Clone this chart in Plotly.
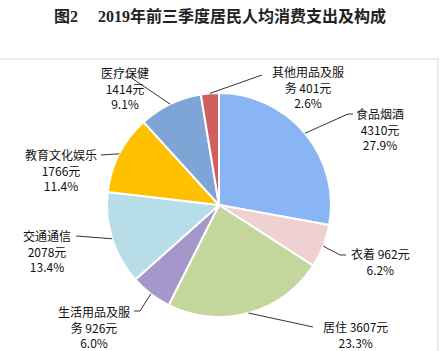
import math
import plotly.graph_objects as go

# ---- data ----
categories = ["食品烟酒", "衣着", "居住", "生活用品及服务", "交通通信", "教育文化娱乐", "医疗保健", "其他用品及服务"]
values = [4310, 962, 3607, 926, 2078, 1766, 1414, 401]
percents = ["27.9%", "6.2%", "23.3%", "6.0%", "13.4%", "11.4%", "9.1%", "2.6%"]
label_texts = [
    "食品烟酒<br>4310元<br>27.9%",
    "衣着 962元<br>6.2%",
    "居住 3607元<br>23.3%",
    "生活用品及服<br>务 926元<br>6.0%",
    "交通通信<br>2078元<br>13.4%",
    "教育文化娱乐<br>1766元<br>11.4%",
    "医疗保健<br>1414元<br>9.1%",
    "其他用品及服<br>务 401元<br>2.6%",
]
colors = ["#8AB5F4", "#EFD1D1", "#C3D69B", "#A597C9", "#B7DEE8", "#FFC000", "#7EA5D6", "#D05F5F"]
title = "图2　 2019年前三季度居民人均消费支出及构成"

# ---- layout constants (pixels) ----
W, H = 441, 351
cx, cy, R = 219, 205, 112
# label centres and leader-line end points (pixels)
label_pos = [(380, 129), (380, 261), (355, 334), (94, 327), (47, 251), (61, 170), (125, 88), (308, 87)]
leader_end = [
    [(348, 114), (353, 114)],
    [(340, 255), (346, 255)],
    [(313, 327)],
    [(140, 311), (134, 311)],
    [(76, 236)],
    [(101, 155)],
    [(130, 77), (125, 77)],
    [(262, 75)],
]

def px(x):
    return x / W

def py(y):
    return 1 - y / H

fig = go.Figure()
fig.add_trace(go.Pie(
    labels=categories, values=values, sort=False, direction="clockwise", rotation=0,
    marker=dict(colors=colors, line=dict(color="white", width=2)),
    textinfo="none", hoverinfo="label+value+percent", showlegend=False,
    domain=dict(x=[px(cx - R), px(cx + R)], y=[py(cy + R), py(cy - R)]),
))

shapes = []
annotations = []
total = sum(values)
cum = 0
for i, v in enumerate(values):
    mid = (cum + v / 2) / total
    cum += v
    ang = 2 * math.pi * mid
    ex, ey = cx + R * math.sin(ang), cy - R * math.cos(ang)
    pts = [(ex, ey)] + leader_end[i]
    path = "M " + " L ".join(f"{px(x):.5f},{py(y):.5f}" for x, y in pts)
    shapes.append(dict(type="path", xref="paper", yref="paper", path=path,
                       line=dict(color="#333333", width=1)))
    lx, ly = label_pos[i]
    annotations.append(dict(x=px(lx), y=py(ly), xref="paper", yref="paper",
                            text=label_texts[i], showarrow=False, align="center",
                            xanchor="center", yanchor="middle",
                            font=dict(family="Noto Sans CJK SC", size=12, color="#111111")))

# frame
shapes.append(dict(type="rect", xref="paper", yref="paper", x0=-0.01, x1=px(438), y0=-0.02, y1=py(59),
                   line=dict(color="#D9D9D9", width=1), layer="below"))

annotations.append(dict(x=px(220), y=py(16), xref="paper", yref="paper", text="<b>" + title + "</b>",
                        showarrow=False, xanchor="center", yanchor="middle",
                        font=dict(family="Liberation Serif, Noto Sans CJK SC", size=16, color="#222222")))

fig.update_layout(width=W, height=H, margin=dict(l=0, r=0, t=0, b=0),
                  paper_bgcolor="white", plot_bgcolor="white",
                  shapes=shapes, annotations=annotations)

fig.write_html("out.html")
